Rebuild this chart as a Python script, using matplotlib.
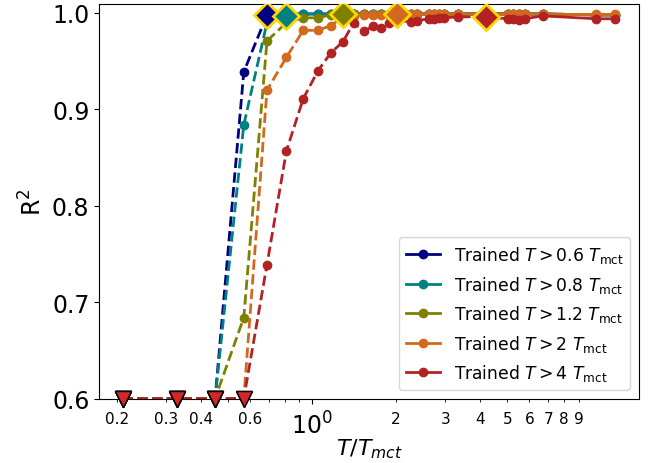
import numpy as np
import matplotlib.pyplot as plt
from matplotlib.ticker import FixedLocator, FixedFormatter

# temperatures T/T_mct at which every model was tested
temps = [0.21, 0.33, 0.45, 0.57, 0.69, 0.81, 0.93, 1.05, 1.17, 1.29, 1.41,
         1.53, 1.65, 1.77, 1.89, 2.01, 2.26, 2.37, 2.62, 2.73, 2.84, 2.96,
         3.33, 4.18, 5.02, 5.23, 5.50, 5.77, 6.70, 10.4, 12.2]

# R^2 of each model; None = below the bottom of the axis (R^2 < 0.6)
r2_06 = [None, None, None, 0.939, 0.998, 0.999, 0.999, 0.999, 0.999, 0.999, 0.999,
         0.999, 0.999, 0.999, 0.999, 0.999, 0.999, 0.999, 0.999, 0.999, 0.999, 0.999,
         0.999, 0.999, 0.999, 0.999, 0.999, 0.999, 0.999, 0.998, 0.998]
r2_08 = [None, None, None, 0.884, 0.990, 0.997, 0.999, 0.999, 0.999, 0.999, 0.999,
         0.999, 0.999, 0.999, 0.999, 0.999, 0.999, 0.999, 0.999, 0.999, 0.999, 0.999,
         0.999, 0.999, 0.999, 0.999, 0.999, 0.999, 0.999, 0.998, 0.998]
r2_12 = [None, None, None, 0.684, 0.971, 0.990, 0.995, 0.995, 0.998, 0.999, 0.999,
         0.999, 0.999, 0.999, 0.999, 0.999, 0.999, 0.999, 0.999, 0.999, 0.999, 0.999,
         0.999, 0.999, 0.999, 0.999, 0.999, 0.999, 0.999, 0.998, 0.998]
r2_2 = [None, None, None, None, 0.920, 0.954, 0.982, 0.982, 0.987, 0.996, 0.997,
        0.998, 0.998, 0.998, 0.998, 0.999, 0.999, 0.999, 0.999, 0.999, 0.999, 0.999,
        0.999, 0.999, 0.999, 0.999, 0.999, 0.999, 0.999, 0.999, 0.999]
r2_4 = [None, None, None, None, 0.739, 0.857, 0.911, 0.940, 0.959, 0.970, 0.990,
        0.981, 0.986, 0.984, 0.990, 0.992, 0.991, 0.992, 0.994, 0.994, 0.995, 0.995,
        0.996, 0.996, 0.994, 0.994, 0.993, 0.994, 0.997, 0.994, 0.994]

thresholds = ["0.6", "0.8", "1.2", "2", "4"]
train_start = [0.69, 0.81, 1.29, 2.01, 4.18]   # first training temperature (diamond)
colors = ["navy", "teal", "olive", "chocolate", "firebrick"]
all_r2 = [r2_06, r2_08, r2_12, r2_2, r2_4]

ymin, ymax = 0.6, 1.0097

fig, ax = plt.subplots(figsize=(6.48, 4.64), dpi=100)
fig.subplots_adjust(left=0.153, right=0.986, top=0.990, bottom=0.139)

t = np.array(temps)
for thr, t0, c, vals in zip(thresholds, train_start, colors, all_r2):
    below = np.array([v is None for v in vals])
    r = np.array([ymin if v is None else v for v in vals])
    test = t <= t0
    train = t >= t0
    ax.plot(t[test], r[test], "--o", color=c, lw=2, ms=6, zorder=2)
    ax.plot(t[train], r[train], "-o", color=c, lw=2, ms=6, zorder=2,
            label=r"Trained $T > %s\ T_{\rm mct}$" % thr)
    ax.plot(t[t == t0], r[t == t0], "D", color=c, ms=13, mec="gold", mew=2, zorder=3)
    ax.plot(t[below], r[below], "v", color="#d62728", mec="black", mew=1,
            ms=11, clip_on=False, zorder=4)

ax.set_xscale("log")
ax.set_xlim(0.173, 14.8)
ax.set_ylim(ymin, ymax)
ax.set_yticks([0.6, 0.7, 0.8, 0.9, 1.0])
ax.tick_params(axis="y", labelsize=17)

major = [1.0]
minor = [0.2, 0.3, 0.4, 0.5, 0.6, 0.7, 0.8, 0.9, 2, 3, 4, 5, 6, 7, 8, 9]
minor_labels = ["0.2", "0.3", "0.4", "", "0.6", "", "", "", "2", "3", "4",
                "5", "6", "7", "8", "9"]
ax.xaxis.set_major_locator(FixedLocator(major))
ax.xaxis.set_major_formatter(FixedFormatter([r"$10^0$"]))
ax.xaxis.set_minor_locator(FixedLocator(minor))
ax.xaxis.set_minor_formatter(FixedFormatter(minor_labels))
ax.tick_params(axis="x", which="major", labelsize=17, pad=6)
ax.tick_params(axis="x", which="minor", labelsize=11, pad=7)

ax.set_xlabel(r"$T/T_{mct}$", fontsize=16, labelpad=-2)
ax.set_ylabel(r"R$^2$", fontsize=17)
ax.legend(loc="lower right", fontsize=12.3)

fig.savefig("out.png", dpi=100)
